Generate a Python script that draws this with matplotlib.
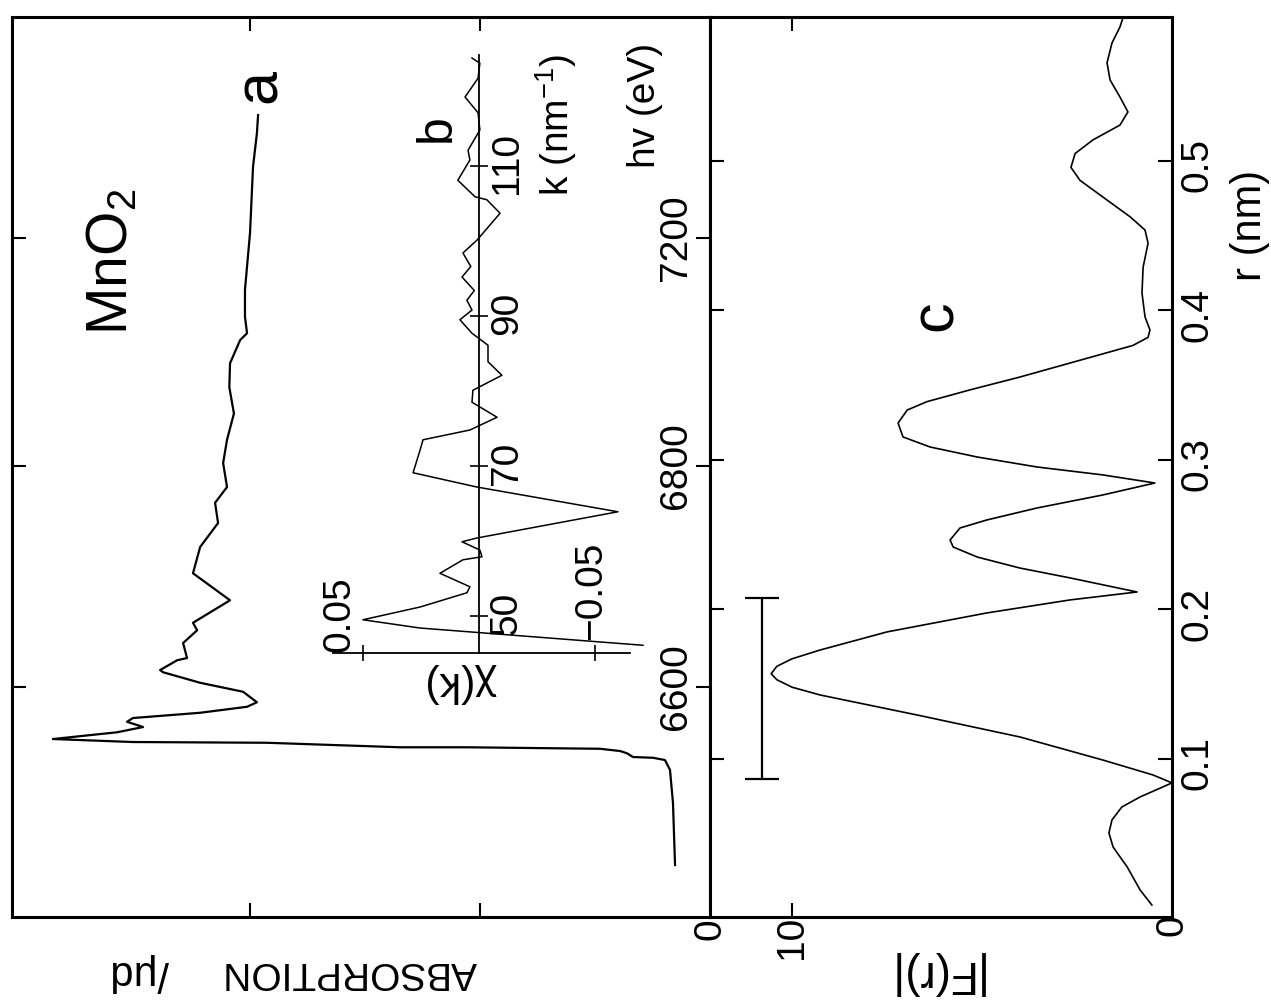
import numpy as np
import matplotlib
matplotlib.use('Agg')
import matplotlib.pyplot as plt
from matplotlib import transforms

plt.rcParams['font.family'] = ['Liberation Sans', 'DejaVu Sans']
plt.rcParams['mathtext.fontset'] = 'custom'
plt.rcParams['mathtext.rm'] = 'Liberation Sans'
plt.rcParams['mathtext.it'] = 'Liberation Sans'

# ---------------------------------------------------------------------------
# data
# panel a: absorption vs photon energy (energy axis is drawn on the k scale of inset b)
k_a = [16.8, 25.1, 29.5, 30.8, 31.1, 31.2, 31.7, 32.0, 32.3, 32.4, 32.5, 32.5, 33.1, 33.2, 33.6,
       34.5, 35.2, 35.9, 36.4, 37.1, 37.9, 38.5, 39.9, 41.1, 42.5, 42.8, 44.1, 44.4, 46.4, 48.1,
       49.1, 52.1, 55.7, 59.2, 62.4, 65.1, 67.2, 70.4, 73.5, 77.0, 80.5, 83.7, 86.8, 87.7, 89.9,
       93.5, 101.1, 109.9, 114.4, 116.8]
mu_a = [0.152, 0.161, 0.174, 0.196, 0.248, 0.335, 0.361, 0.391, 0.478, 0.770, 1.057, 1.348, 1.926, 2.509, 2.857,
        2.578, 2.465, 2.535, 2.509, 2.217, 2.013, 1.970, 2.030, 2.217, 2.378, 2.391, 2.317, 2.274, 2.291, 2.230,
        2.248, 2.087, 2.248, 2.217, 2.139, 2.152, 2.100, 2.117, 2.100, 2.070, 2.090, 2.087, 2.043, 2.013, 2.022,
        2.022, 2.000, 1.987, 1.970, 1.965]

# inset b: chi(k)
k_b = [46.1, 48.4, 49.5, 51.2, 53.1, 53.9, 55.7, 57.5, 57.9, 58.8, 59.9, 60.4, 63.9, 67.2, 69.1,
       72.1, 73.5, 74.8, 76.5, 78.5, 80.1, 82.1, 83.9, 86.1, 87.7, 89.5, 90.8, 92.1, 93.4, 95.2,
       96.6, 98.4, 100.1, 103.7, 105.5, 105.9, 108.1, 110.8, 112.1, 114.8, 117.1, 119.2, 121.7, 123.7, 124.4]
chi_b = [-0.0707, 0.0254, 0.050, 0.0254, 0.0052, 0.0039, 0.0168, 0.0069, -0.0013, -0.0004, 0.0073, 0.0009, -0.0599, 0.0009, 0.0284,
         0.0254, 0.0241, 0.0039, -0.0078, 0.0030, 0.0026, -0.0099, -0.0039, -0.0039, 0.0030, 0.0082, 0.0030, 0.0052, 0.0020, 0.0073,
         0.0035, 0.0069, 0.0009, -0.0091, -0.0034, 0.0017, 0.0091, 0.0039, 0.0047, -0.0004, 0.0004, 0.0060, 0.0004, -0.0004, 0.0030]

# panel c: |F(r)|
r_c = [0.0023, 0.0124, 0.0278, 0.0411, 0.0505, 0.0592, 0.0679, 0.0746, 0.084,
       0.0893, 0.0993, 0.1147, 0.129, 0.1428, 0.148, 0.153, 0.157, 0.162, 0.167, 0.1729,
       0.185, 0.1977, 0.2064, 0.2117,
       0.2211, 0.2277, 0.2351, 0.2418, 0.2465, 0.2545, 0.2599, 0.2679, 0.2766, 0.2846,
       0.290, 0.2953, 0.302, 0.3087, 0.3154, 0.3247, 0.3334, 0.339, 0.347, 0.3555, 0.368, 0.3766, 0.382, 0.387,
       0.3957, 0.4117, 0.429, 0.445, 0.4538, 0.4626, 0.4759, 0.487, 0.4957, 0.505, 0.5141, 0.524, 0.5328,
       0.5428, 0.5542, 0.5656, 0.5789, 0.5896, 0.5997]
F_c = [0.53, 0.84, 1.18, 1.55, 1.66, 1.58, 1.32, 0.84, 0.00,
       0.50, 1.82, 4.00, 6.63, 9.26, 10.00, 10.40, 10.55, 10.40, 10.00, 9.26,
       7.50, 4.87, 2.68, 0.92,
       2.68, 4.00, 5.13, 5.76, 5.84, 5.58, 4.87, 3.55, 1.82, 0.45,
       1.82, 3.55, 5.13, 6.37, 7.08, 7.21, 6.97, 6.45, 5.30, 4.00, 2.24, 1.03, 0.63, 0.58,
       0.71, 0.79, 0.76, 0.63, 0.71, 1.10, 1.82, 2.42, 2.66, 2.55, 2.08, 1.37, 1.16,
       1.37, 1.63, 1.71, 1.58, 1.37, 1.24]

energy_ticks = [6600, 6800, 7200]
k_ticks = [50, 70, 90, 110]
chi_ticks = [0.05, -0.05]
r_ticks = [0.1, 0.2, 0.3, 0.4, 0.5]
bar_F = 10.8
bar_r = (0.0866, 0.2077)


def e_to_k(e):
    # energy axis is quadratic in k
    return 23.4 + np.sqrt((e - 6568.7) / 0.1064)


W, H = 1271, 1001
fig = plt.figure(figsize=(W / 100, H / 100), dpi=100)


def box(x0, y0, x1, y1):
    return [x0 / W, 1 - y1 / H, (x1 - x0) / W, (y1 - y0) / H]


TS = 28
lw_frame = 2.2

# ---------------------------------------------------------------- panel a
ax_a = fig.add_axes(box(12, 17, 710, 917))
ax_a.plot(mu_a, k_a, color='black', lw=1.6)
ax_a.set_xlim(3.035, 0)
ax_a.set_ylim(9.87, 129.87)
ax_a.set_yticks([e_to_k(e) for e in energy_ticks])
ax_a.set_xticks([1, 2])
ax_a.tick_params(direction='in', length=10, width=1.5, left=True, right=True, top=True, bottom=True,
                 labelleft=False, labelbottom=False)
for s in ax_a.spines.values():
    s.set_linewidth(lw_frame)

tr = transforms.blended_transform_factory(ax_a.transAxes, ax_a.transData)
for e in energy_ticks:
    ax_a.text(0.9513, e_to_k(e), str(e), transform=tr, rotation=90, ha='center', va='center', fontsize=TS)
tr = transforms.blended_transform_factory(ax_a.transData, ax_a.transAxes)
ax_a.text(0, -0.013, '0', transform=tr, rotation=90, ha='center', va='center', fontsize=TS)

# ---------------------------------------------------------------- panel c
ax_c = fig.add_axes(box(710, 17, 1172, 917))
ax_c.plot(F_c, r_c, color='black', lw=1.2)
ax_c.errorbar([bar_F], [(bar_r[0] + bar_r[1]) / 2], yerr=[(bar_r[1] - bar_r[0]) / 2],
              color='black', lw=1.6, capsize=12, capthick=1.6)
ax_c.set_xlim(12.16, 0)
ax_c.set_ylim(-0.0057, 0.5963)
ax_c.set_yticks(r_ticks)
ax_c.set_xticks([10])
ax_c.tick_params(direction='in', length=10, width=1.5, left=True, right=True, top=True, bottom=True,
                 labelleft=False, labelbottom=False)
for s in ax_c.spines.values():
    s.set_linewidth(lw_frame)

tr = transforms.blended_transform_factory(ax_c.transAxes, ax_c.transData)
for r in r_ticks:
    ax_c.text(1.056, r - 0.003, f'{r:.1f}', transform=tr, rotation=90, ha='center', va='center', fontsize=TS)
tr = transforms.blended_transform_factory(ax_c.transData, ax_c.transAxes)
ax_c.text(10, -0.023, '10', transform=tr, rotation=90, ha='center', va='center', fontsize=TS)
ax_c.text(0, -0.009, '0', transform=tr, rotation=90, ha='center', va='center', fontsize=TS)

# ---------------------------------------------------------------- inset b
ax_b = fig.add_axes(box(333, 55, 630, 653))
ax_b.patch.set_alpha(0)
ax_b.plot(chi_b, k_b, color='black', lw=1.1, clip_on=False)
ax_b.set_xlim(0.0629, -0.0651)
ax_b.set_ylim(45.07, 124.8)
ax_b.spines['left'].set_position(('data', 0))
ax_b.spines['right'].set_visible(False)
ax_b.spines['top'].set_visible(False)
ax_b.spines['left'].set_linewidth(1.3)
ax_b.spines['bottom'].set_linewidth(1.3)
ax_b.set_xticks(chi_ticks)
ax_b.set_yticks(k_ticks)
ax_b.tick_params(axis='x', direction='inout', length=11, width=1.2, labelbottom=False)
ax_b.tick_params(axis='y', direction='inout', length=13, width=1.2, labelleft=False)
for k in k_ticks:
    ax_b.annotate(str(k), (0, k), xytext=(28, 3), textcoords='offset pixels', rotation=90,
                  ha='center', va='center', fontsize=TS)
ax_b.annotate('0.05', (0.05, 45.07), xytext=(-5, 1), textcoords='offset pixels', rotation=90,
              ha='right', va='bottom', fontsize=TS)
ax_b.annotate('\u22120.05', (-0.05, 45.07), xytext=(-4, 13), textcoords='offset pixels', rotation=90,
              ha='center', va='bottom', fontsize=TS)


# ---------------------------------------------------------------- free text
def ftext(x, y, s, rot, size):
    fig.text(x / W, 1 - y / H, s, rotation=rot, ha='center', va='center', fontsize=size)


ftext(112, 262, 'MnO$_2$', 90, 41)
ftext(260, 86, 'a', 90, 44)
ftext(437, 128, 'b', 90, 36)
ftext(936, 316, 'c', 90, 44)
ftext(556, 125, 'k (nm$^{-1}$)', 90, TS)
ftext(645, 105, 'hv (eV)', 90, TS)
ftext(1250, 225, 'r (nm)', 90, 30)
ftext(350, 972, 'ABSORPTION', 180, 28)
ftext(140, 972, '/\u03bcd', 180, 30)
ftext(933, 973, '|F(r)|', 180, 33)
ftext(460, 683, '\u03c7(k)', 180, 31)

fig.savefig('out.png', dpi=100)
